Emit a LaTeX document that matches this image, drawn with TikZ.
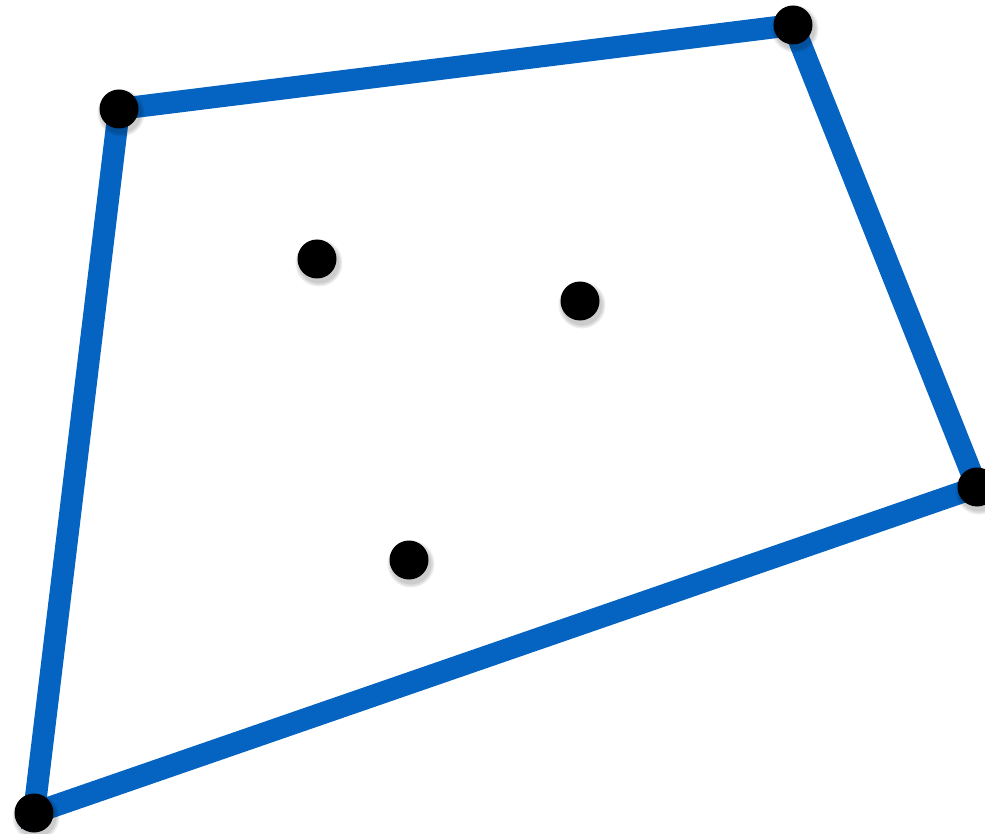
\documentclass[tikz,border=0pt]{standalone}
\begin{document}
\begin{tikzpicture}[x=1pt,y=-1pt,
  hull/.style={draw={rgb,255:red,5;green,99;blue,193},line width=22pt,line join=miter},
  dot/.style={circle,fill=black,minimum size=39pt,inner sep=0pt},
  shade/.style={circle,fill=black,inner sep=0pt,opacity=0.07}]
\useasboundingbox (0,0) rectangle (985,834);
\coordinate (p1) at (119,109);
\coordinate (p2) at (793,25);
\coordinate (p3) at (977,487);
\coordinate (p4) at (34,813);
\coordinate (q1) at (317,259);
\coordinate (q2) at (580,301);
\coordinate (q3) at (409,560);
\draw[hull] (p1) -- (p2) -- (p3) -- (p4) -- cycle;
\foreach \p in {p1,p2,p3,p4,q1,q2,q3}{
  \foreach \s in {41,44,47}{
    \node[shade,minimum size=\s pt] at ([shift={(2,4)}]\p) {};
  }
}
\foreach \p in {p1,p2,p3,p4,q1,q2,q3}{
  \node[dot] (d\p) at (\p) {};
}
\end{tikzpicture}
\end{document}
